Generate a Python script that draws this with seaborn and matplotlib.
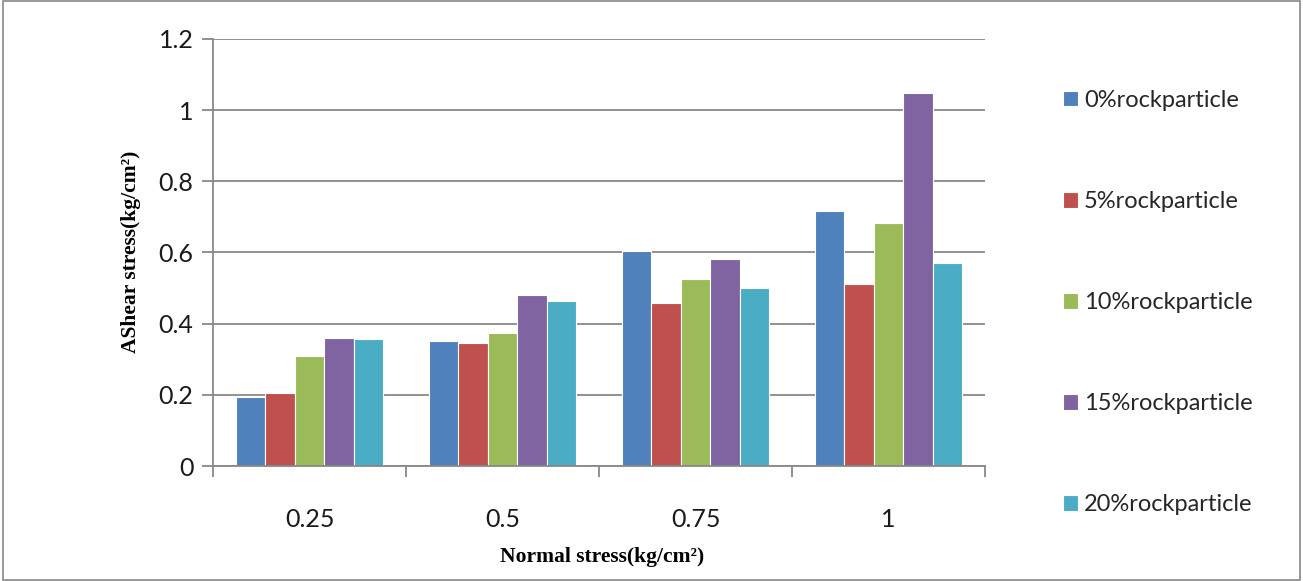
import matplotlib
matplotlib.use("Agg")
import matplotlib.pyplot as plt
import seaborn as sns
import pandas as pd
from matplotlib.patches import Rectangle

categories = ["0.25", "0.5", "0.75", "1"]
series_names = ["0%rockparticle", "5%rockparticle", "10%rockparticle",
                "15%rockparticle", "20%rockparticle"]
v0 = [0.195, 0.351, 0.604, 0.717]
v5 = [0.206, 0.345, 0.457, 0.511]
v10 = [0.309, 0.375, 0.525, 0.684]
v15 = [0.361, 0.480, 0.581, 1.049]
v20 = [0.356, 0.465, 0.501, 0.571]
yticks = [0, 0.2, 0.4, 0.6, 0.8, 1, 1.2]
ytick_labels = ["0", "0.2", "0.4", "0.6", "0.8", "1", "1.2"]
colors = ["#4F81BD", "#C0504D", "#9BBB59", "#8064A2", "#4BACC6"]

rows = []
for name, vals in zip(series_names, [v0, v5, v10, v15, v20]):
    for c, v in zip(categories, vals):
        rows.append({"cat": c, "series": name, "val": v})
df = pd.DataFrame(rows)

sns.set_theme(style="white")
plt.rcParams["font.family"] = ["Lato", "DejaVu Sans"]

W, H = 1303, 581
fig = plt.figure(figsize=(W/100, H/100), dpi=100)
ax = fig.add_axes([213/W, 1-466/H, (985-213)/W, (466-39)/H])

sns.barplot(data=df, x="cat", y="val", hue="series", order=categories,
            hue_order=series_names, palette=colors, saturation=1, width=0.76, gap=0,
            edgecolor="white", linewidth=0.8, ax=ax, legend=True, errorbar=None)

ax.set_ylim(0, 1.2)
ax.set_xlim(-0.5, 3.5)
ax.set_yticks(yticks)
ax.set_yticklabels(ytick_labels, fontsize=18, color="#1a1a1a")
ax.set_xticklabels(categories, fontsize=18, color="#1a1a1a")
ax.yaxis.grid(True, color="#888888", linewidth=1.3)
ax.set_axisbelow(True)
for s in ["top", "right"]:
    ax.spines[s].set_visible(False)
for s in ["left", "bottom"]:
    ax.spines[s].set_color("#888888")
    ax.spines[s].set_linewidth(1.3)
ax.tick_params(axis="y", length=8, color="#888888", width=1.3, pad=6, left=True)
ax.tick_params(axis="x", which="major", length=0, pad=30)
ax.set_xticks([-0.5, 0.5, 1.5, 2.5, 3.5], minor=True)
ax.tick_params(axis="x", which="minor", length=8, color="#888888", width=1.3, bottom=True)
ax.set_xlabel("")
ax.set_ylabel("")

fig.text(602/W, 1-557/H, "Normal stress(kg/cm²)", fontsize=15.5, fontweight="bold",
         family="Liberation Serif", ha="center", va="center", color="#000000")
fig.text(131/W, 1-252/H, "AShear stress(kg/cm²)", fontsize=15.5, fontweight="bold",
         family="Liberation Serif", ha="center", va="center", rotation=90, color="#000000")

handles, labels = ax.get_legend_handles_labels()
ax.get_legend().remove()
fig.legend(handles, labels, loc="upper left", bbox_to_anchor=(1044/W, 1-71/H),
           frameon=False, fontsize=17, labelspacing=3.39, handlelength=0.65,
           handleheight=0.65, handletextpad=0.25, borderpad=0.3)

fig.patches.append(Rectangle((0.002, 0.002), 0.996, 0.996, transform=fig.transFigure,
                             fill=False, edgecolor="#888888", linewidth=1.2))

fig.savefig("out.png", dpi=100)
